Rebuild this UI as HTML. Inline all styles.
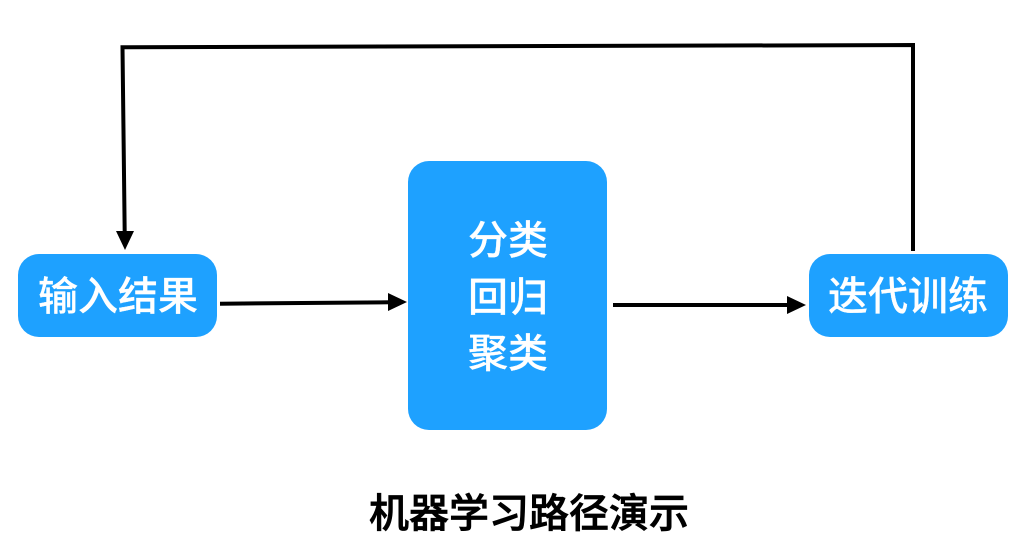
<!DOCTYPE html>
<html lang="zh">
<head>
<meta charset="utf-8">
<style>
html,body{margin:0;padding:0;background:#fff;width:1034px;height:558px;overflow:hidden}
svg{display:block}
text{font-family:"Liberation Sans","Noto Sans CJK SC",sans-serif;font-size:40px;text-anchor:middle;font-weight:500}
.w{fill:#fff;stroke:#fff;stroke-width:.25px}
.t{fill:#000;stroke:#000;stroke-width:.7px}
</style>
</head>
<body>
<svg width="1034" height="558" viewBox="0 0 1034 558" xmlns="http://www.w3.org/2000/svg">
<rect width="1034" height="558" fill="#fff"/>
<rect x="18" y="254" width="199" height="83" rx="21" fill="#1ea1ff"/>
<rect x="408" y="161" width="199" height="269" rx="21" fill="#1ea1ff"/>
<rect x="809" y="254" width="199" height="83" rx="21" fill="#1ea1ff"/>
<text class="w" x="118" y="310">输入结果</text>
<text class="w" x="508" y="254">分类</text>
<text class="w" x="508" y="311">回归</text>
<text class="w" x="508" y="367">聚类</text>
<text class="w" x="908" y="310">迭代训练</text>
<text class="t" x="529" y="527">机器学习路径演示</text>
<g fill="none" stroke="#000" stroke-width="4">
<path d="M220 303.7L390 302.3"/>
<path d="M613 305L789 305"/>
<path d="M913 251L913 45L122.500 47.300L124.700 233"/>
</g>
<polygon points="388,293 407,302 388,311" fill="#000"/>
<polygon points="787,296 806,305 787,314" fill="#000"/>
<polygon points="116,231 134,231 125,250" fill="#000"/>
</svg>
</body>
</html>
